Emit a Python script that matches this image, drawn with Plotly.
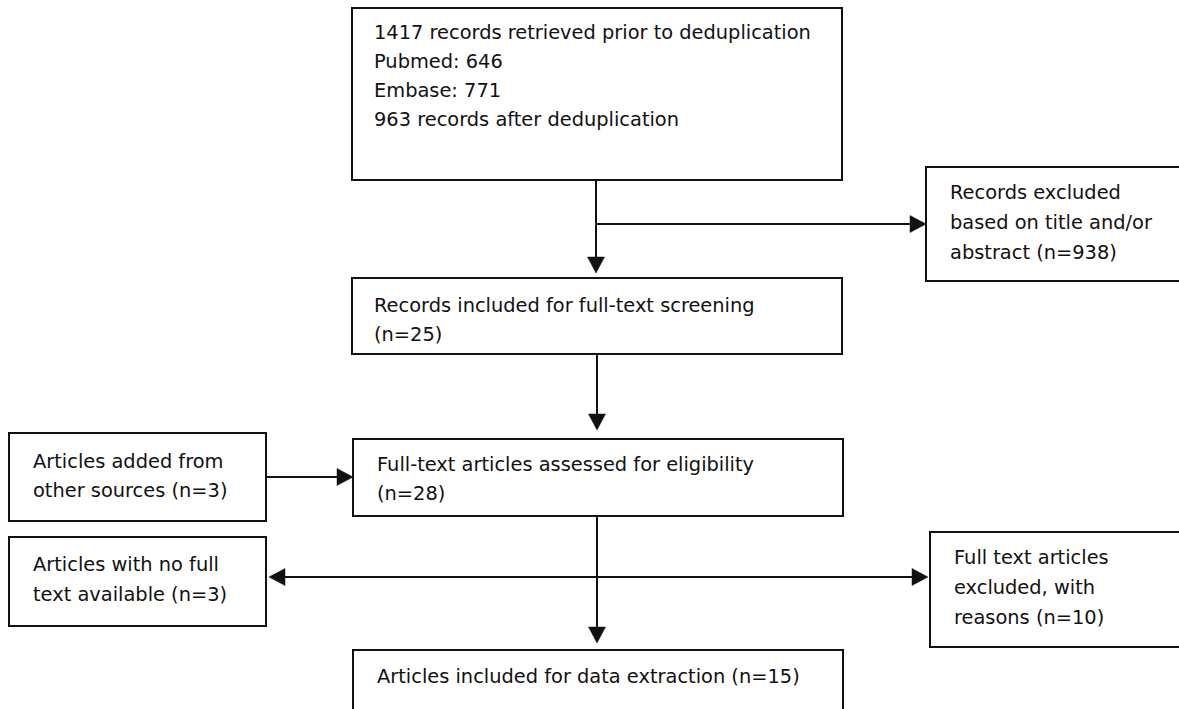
import plotly.graph_objects as go

# ---- flowchart content (PRISMA) ----
box_names = ["retrieved", "screening", "excluded_title", "added", "assessed",
             "no_fulltext", "excluded_reasons", "included"]
box_lines = [
    ["1417 records retrieved prior to deduplication", "Pubmed: 646", "Embase: 771",
     "963 records after deduplication"],
    ["Records included for full-text screening", "(n=25)"],
    ["Records excluded", "based on title and/or", "abstract (n=938)"],
    ["Articles added from", "other sources (n=3)"],
    ["Full-text articles assessed for eligibility", "(n=28)"],
    ["Articles with no full", "text available (n=3)"],
    ["Full text articles", "excluded, with", "reasons (n=10)"],
    ["Articles included for data extraction (n=15)"],
]

# ---- layout geometry (pixels, y downward) ----
box_x0 = [352, 352, 926, 9, 353, 9, 930, 353]
box_y0 = [8, 278, 167, 433, 439, 537, 532, 650]
box_x1 = [842, 842, 1195, 266, 843, 266, 1195, 843]
box_y1 = [180, 354, 281, 521, 516, 626, 647, 725]
text_x = [372, 372, 948, 31, 375, 31, 952, 375]
text_y_first = [32, 305, 192.5, 461, 464, 564.5, 557.5, 676]
line_gap = [29, 29, 30, 29, 29, 29.5, 30, 29]

# connectors: (x_start, y_start, x_end, y_end)
conn_x0 = [596, 596, 597, 266, 597, 597, 597]
conn_y0 = [180, 224, 354, 477, 516, 577, 577]
conn_x1 = [596, 926, 597, 353, 597, 269, 928]
conn_y1 = [273, 224, 430, 477, 643, 577, 577]

W, H = 1179, 709
LINE = "#111111"
HEAD_L, HEAD_W = 16, 8.5

fig = go.Figure()
shapes = []
for x0, y0, x1, y1 in zip(box_x0, box_y0, box_x1, box_y1):
    shapes.append(dict(type="rect", xref="x", yref="y", x0=x0, y0=y0, x1=x1, y1=y1,
                       line=dict(color=LINE, width=2), fillcolor="white", layer="below"))

for x0, y0, x1, y1 in zip(conn_x0, conn_y0, conn_x1, conn_y1):
    dx, dy = x1 - x0, y1 - y0
    length = (dx ** 2 + dy ** 2) ** 0.5
    ux, uy = dx / length, dy / length
    bx, by = x1 - ux * HEAD_L, y1 - uy * HEAD_L
    shapes.append(dict(type="line", xref="x", yref="y", x0=x0, y0=y0, x1=bx + ux, y1=by + uy,
                       line=dict(color=LINE, width=2)))
    px, py = -uy, ux
    path = (f"M {x1} {y1} L {bx + px * HEAD_W} {by + py * HEAD_W} "
            f"L {bx - px * HEAD_W} {by - py * HEAD_W} Z")
    shapes.append(dict(type="path", xref="x", yref="y", path=path,
                       fillcolor=LINE, line=dict(color=LINE, width=0.5)))

annotations = []
for lines, tx, ty, gap in zip(box_lines, text_x, text_y_first, line_gap):
    for i, ln in enumerate(lines):
        annotations.append(dict(x=tx, y=ty + i * gap, xref="x", yref="y", text=ln,
                                showarrow=False, xanchor="left", yanchor="middle",
                                font=dict(family="DejaVu Sans", size=19.4, color="#111111")))

fig.update_layout(
    width=W, height=H, margin=dict(l=0, r=0, t=0, b=0),
    paper_bgcolor="white", plot_bgcolor="white",
    xaxis=dict(range=[0, W], visible=False, fixedrange=True),
    yaxis=dict(range=[H, 0], visible=False, fixedrange=True),
    shapes=shapes, annotations=annotations, showlegend=False,
)
fig.write_html("out.html", config={"displayModeBar": False},
               post_script="document.body.style.margin='0';document.body.style.overflow='hidden';")
